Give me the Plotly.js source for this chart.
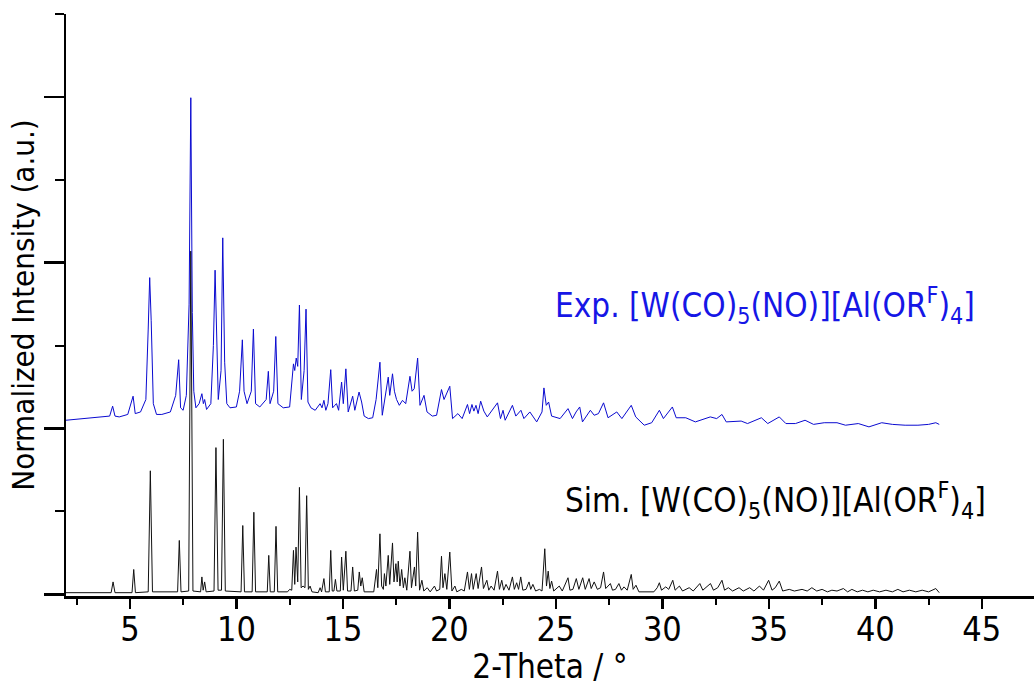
<!DOCTYPE html>
<html>
<head>
<meta charset="utf-8">
<script src="https://cdn.plot.ly/plotly-3.0.1.min.js"></script>
<style>html,body{margin:0;padding:0;background:#fff;}#chart{width:1034px;height:686px;}</style>
</head>
<body>
<div id="chart"></div>
<script>
// Simulated pattern (2-Theta, normalized intensity)
const simX = [2.00,4.12,4.21,4.30,5.10,5.18,5.26,5.86,5.96,6.06,7.24,7.32,7.40,7.76,7.86,7.96,8.32,8.38,8.44,8.51,8.58,8.95,9.04,9.14,9.30,9.39,9.48,10.22,10.30,10.38,10.74,10.82,10.90,11.45,11.52,11.59,11.78,11.86,11.94,12.40,12.50,12.60,12.68,12.74,12.80,12.88,12.96,13.04,13.13,13.22,13.30,13.38,13.46,13.55,13.84,13.93,14.00,14.11,14.18,14.36,14.43,14.50,14.58,14.65,14.72,14.88,14.94,15.02,15.14,15.22,15.38,15.46,15.54,15.70,15.77,15.84,15.91,16.00,16.45,16.58,16.64,16.74,16.82,16.90,16.95,17.02,17.13,17.20,17.33,17.40,17.49,17.55,17.60,17.68,17.76,17.84,17.91,18.00,18.15,18.22,18.36,18.42,18.51,18.60,18.71,18.80,18.96,19.10,19.30,19.40,19.55,19.63,19.70,19.79,19.88,20.02,20.12,20.26,20.35,20.56,20.70,20.85,20.94,21.04,21.12,21.26,21.35,21.51,21.60,21.76,21.85,21.96,22.10,22.26,22.35,22.46,22.55,22.66,22.80,22.96,23.05,23.16,23.25,23.35,23.45,23.60,23.74,23.82,23.92,24.05,24.23,24.35,24.48,24.56,24.64,24.72,24.80,24.90,25.16,25.30,25.57,25.66,25.80,25.96,26.08,26.26,26.38,26.56,26.66,26.80,26.95,27.10,27.24,27.34,27.56,27.66,27.80,27.96,28.08,28.20,28.35,28.54,28.63,28.76,28.90,29.60,29.76,29.86,29.96,30.16,30.30,30.49,30.60,30.80,30.95,31.26,31.45,31.76,31.90,32.26,32.40,32.60,32.80,32.92,33.10,33.30,33.60,33.80,34.10,34.30,34.56,34.75,34.99,35.15,35.30,35.49,35.65,35.96,36.20,36.56,36.80,37.02,37.25,37.50,37.75,37.96,38.20,38.50,38.70,38.90,39.15,39.40,39.65,39.90,40.20,40.50,40.80,41.06,41.30,41.60,41.90,42.20,42.50,42.84,43.00];
const simY = [0.02,0.02,0.15,0.02,0.02,0.30,0.02,0.03,1.49,0.03,0.03,0.65,0.03,0.04,4.14,0.04,0.03,0.21,0.05,0.15,0.03,0.04,1.77,0.05,0.05,1.87,0.04,0.03,0.83,0.03,0.03,0.99,0.03,0.03,0.47,0.03,0.03,0.82,0.03,0.03,0.06,0.05,0.53,0.12,0.57,0.15,1.29,0.08,0.10,0.08,1.19,0.06,0.10,0.03,0.02,0.08,0.03,0.19,0.03,0.03,0.53,0.04,0.04,0.18,0.04,0.04,0.45,0.05,0.52,0.04,0.04,0.33,0.04,0.05,0.27,0.10,0.20,0.03,0.03,0.30,0.08,0.73,0.10,0.06,0.25,0.10,0.47,0.12,0.62,0.15,0.37,0.15,0.40,0.10,0.30,0.08,0.20,0.05,0.52,0.08,0.33,0.10,0.75,0.05,0.17,0.04,0.08,0.03,0.10,0.04,0.06,0.46,0.08,0.25,0.06,0.51,0.04,0.10,0.03,0.06,0.04,0.27,0.06,0.25,0.06,0.25,0.07,0.33,0.07,0.17,0.05,0.10,0.05,0.28,0.06,0.17,0.05,0.12,0.05,0.21,0.06,0.14,0.06,0.21,0.05,0.06,0.15,0.06,0.12,0.04,0.06,0.04,0.55,0.10,0.28,0.07,0.16,0.04,0.10,0.04,0.20,0.05,0.06,0.19,0.06,0.20,0.06,0.19,0.07,0.15,0.06,0.08,0.27,0.07,0.13,0.05,0.06,0.13,0.05,0.09,0.05,0.24,0.06,0.11,0.03,0.03,0.08,0.14,0.05,0.09,0.06,0.17,0.05,0.10,0.04,0.08,0.04,0.13,0.05,0.13,0.05,0.08,0.17,0.05,0.08,0.04,0.08,0.04,0.08,0.04,0.10,0.05,0.17,0.05,0.08,0.16,0.04,0.06,0.04,0.06,0.04,0.08,0.04,0.06,0.03,0.05,0.04,0.07,0.03,0.06,0.03,0.05,0.03,0.05,0.03,0.05,0.03,0.06,0.03,0.05,0.03,0.05,0.03,0.07,0.02];

// Experimental pattern (offset upward)
const expX = [2.00,2.50,3.00,3.50,4.05,4.19,4.30,4.50,4.90,5.15,5.25,5.50,5.75,5.86,5.93,6.00,6.10,6.25,6.50,6.90,7.15,7.29,7.38,7.50,7.65,7.78,7.86,7.93,8.00,8.10,8.25,8.38,8.45,8.51,8.60,8.80,8.92,9.00,9.08,9.15,9.28,9.36,9.45,9.55,9.70,10.00,10.15,10.28,10.36,10.50,10.70,10.80,10.90,11.10,11.40,11.50,11.58,11.75,11.85,11.95,12.20,12.50,12.68,12.74,12.81,12.88,12.96,13.05,13.18,13.27,13.36,13.50,13.70,13.93,14.02,14.11,14.20,14.30,14.43,14.52,14.62,14.70,14.80,14.94,15.02,15.14,15.25,15.46,15.56,15.76,15.88,16.00,16.20,16.40,16.56,16.74,16.85,17.00,17.13,17.20,17.33,17.42,17.52,17.65,17.80,17.95,18.15,18.25,18.35,18.51,18.62,18.81,18.95,19.20,19.40,19.63,19.75,20.02,20.15,20.40,20.60,20.85,20.95,21.06,21.15,21.25,21.35,21.47,21.62,21.78,22.00,22.26,22.40,22.52,22.62,22.96,23.12,23.36,23.50,23.78,24.10,24.35,24.44,24.55,24.66,24.80,25.20,25.57,25.78,25.95,26.12,26.25,26.62,26.80,27.00,27.24,27.45,27.86,28.10,28.54,28.75,29.15,29.50,29.86,30.05,30.47,30.65,31.10,31.55,31.90,32.25,32.55,32.80,33.00,33.40,33.70,34.00,34.65,34.95,35.49,35.80,36.25,36.70,37.10,37.60,38.20,38.60,39.20,39.70,40.30,40.80,41.40,42.00,42.50,42.84,43.00];
const expY = [2.10,2.11,2.12,2.13,2.15,2.27,2.15,2.14,2.17,2.39,2.18,2.20,2.35,3.20,3.82,3.30,2.30,2.17,2.17,2.20,2.40,2.83,2.25,2.22,2.40,3.50,5.99,3.40,2.45,2.25,2.30,2.42,2.30,2.35,2.23,2.30,3.00,3.91,2.90,2.35,2.70,4.30,2.80,2.30,2.25,2.26,2.45,3.07,2.45,2.30,2.45,3.20,2.30,2.26,2.35,2.69,2.30,2.45,3.11,2.30,2.25,2.26,2.78,2.70,2.85,2.75,3.49,2.35,2.70,3.44,2.32,2.25,2.22,2.30,2.25,2.34,2.22,2.30,2.71,2.25,2.28,2.30,2.22,2.56,2.30,2.72,2.20,2.39,2.22,2.44,2.32,2.15,2.12,2.13,2.35,2.80,2.16,2.40,2.62,2.40,2.66,2.45,2.35,2.28,2.34,2.30,2.63,2.45,2.48,2.85,2.28,2.40,2.20,2.15,2.16,2.47,2.35,2.51,2.12,2.18,2.12,2.29,2.18,2.29,2.21,2.28,2.18,2.33,2.21,2.14,2.22,2.31,2.12,2.22,2.10,2.28,2.15,2.22,2.12,2.20,2.08,2.20,2.49,2.28,2.32,2.15,2.12,2.24,2.12,2.20,2.26,2.08,2.22,2.16,2.18,2.31,2.13,2.20,2.12,2.28,2.14,2.04,2.07,2.22,2.12,2.26,2.13,2.13,2.08,2.11,2.14,2.12,2.17,2.08,2.09,2.09,2.06,2.13,2.06,2.14,2.06,2.06,2.10,2.05,2.07,2.07,2.04,2.06,2.02,2.07,2.05,2.04,2.04,2.05,2.07,2.05];

const expLabel = 'Exp. [W(CO)<sub>5</sub>(NO)][Al(OR<sup>F</sup>)<sub>4</sub>]';
const simLabel = 'Sim. [W(CO)<sub>5</sub>(NO)][Al(OR<sup>F</sup>)<sub>4</sub>]';
const xTitle = '2-Theta / °';
const yTitle = 'Normalized Intensity (a.u.)';

const FONT = '"Liberation Sans Narrow", "DejaVu Sans Condensed", "Arial Narrow", sans-serif';

const traces = [
  {x: simX, y: simY, type: 'scatter', mode: 'lines', line: {color: '#111111', width: 1}, hoverinfo: 'skip', name: 'Sim.'},
  {x: expX, y: expY, type: 'scatter', mode: 'lines', line: {color: '#0a0ad0', width: 1}, hoverinfo: 'skip', name: 'Exp.'}
];

const layout = {
  width: 1034, height: 686,
  margin: {l: 66, r: 0, t: 14, b: 90},
  paper_bgcolor: '#ffffff', plot_bgcolor: '#ffffff',
  showlegend: false,
  font: {family: FONT, color: '#000'},
  xaxis: {
    range: [2.0, 47.45], showgrid: false, zeroline: false,
    showline: true, linecolor: '#000', linewidth: 2.5,
    ticks: 'outside', ticklen: 10, tickwidth: 2.5, tickcolor: '#000',
    tick0: 0, dtick: 5,
    ticklabelstandoff: -8,
    tickfont: {family: FONT, size: 34, color: '#000'},
    minor: {ticks: 'outside', dtick: 2.5, tick0: 0, ticklen: 6, tickwidth: 2, tickcolor: '#000'},
    title: {text: xTitle, font: {family: FONT, size: 33, color: '#000'}, standoff: 2}
  },
  yaxis: {
    range: [-0.02, 7.0], showgrid: false, zeroline: false,
    showline: true, linecolor: '#000', linewidth: 2.5,
    ticks: 'outside', ticklen: 20, tickwidth: 2.5, tickcolor: '#000',
    tick0: 0, dtick: 2, showticklabels: false,
    minor: {ticks: 'outside', dtick: 1, tick0: 0, ticklen: 9, tickwidth: 2, tickcolor: '#000'},
    title: {text: yTitle, font: {family: FONT, size: 31, color: '#000'}, standoff: 0}
  },
  annotations: [
    {x: 24.87, y: 3.48, xref: 'x', yref: 'y', xanchor: 'left', yanchor: 'middle', showarrow: false,
     text: expLabel, font: {family: FONT, size: 33, color: '#1616e6'}},
    {x: 25.34, y: 1.13, xref: 'x', yref: 'y', xanchor: 'left', yanchor: 'middle', showarrow: false,
     text: simLabel, font: {family: FONT, size: 33, color: '#000'}}
  ]
};

Plotly.newPlot('chart', traces, layout, {staticPlot: true, displayModeBar: false});
</script>
</body>
</html>
